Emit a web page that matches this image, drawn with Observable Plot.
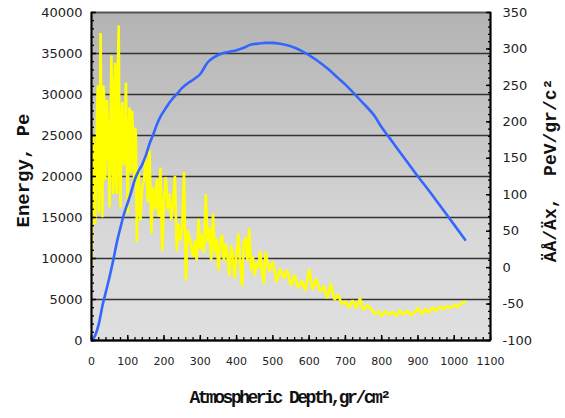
<!DOCTYPE html>
<html><head><meta charset="utf-8">
<script src="https://cdn.jsdelivr.net/npm/d3@7"></script>
<script src="https://cdn.jsdelivr.net/npm/@observablehq/plot@0.6"></script>
<style>body{margin:0;background:#fff;} svg{display:block}</style>
</head><body><div id="chart"></div>
<script>
// Energy (left axis, Pe) vs atmospheric depth
const energyDepth = [0,10,20,30,40,50,60,70,80,90,100,110,120,130,140,150,160,170,180,190,200,210,220,230,240,250,260,270,280,300,320,340,360,380,400,420,440,460,480,500,520,540,560,580,600,620,650,680,700,720,750,780,800,820,850,880,900,930,950,980,1000,1030];
const energyValues = [0,600,2000,4200,6000,7800,9800,12000,13800,15500,16800,18200,19700,20700,21500,22600,24000,25100,26300,27300,28000,28700,29300,29800,30300,30800,31200,31500,31800,32500,33900,34600,35000,35200,35400,35700,36100,36200,36300,36300,36200,36000,35700,35300,34800,34200,33200,32000,31200,30300,28900,27400,26000,24800,23000,21200,20000,18300,17100,15300,14100,12300];
// dE/dx (right axis, PeV/gr/cm2) vs atmospheric depth
const dedxDepth = [0,5,10,12.5,15,17.5,20,22.5,25,27.5,30,32.5,35,37.5,40,42.5,45,47.5,50,52.5,55,57.5,60,62.5,65,67.5,70,72.5,75,77.5,80,82.5,85,87.5,90,92.5,95,97.5,100,102.5,105,107.5,110,112.5,115,117.5,120,122.5,125,127.5,130,135,140,145,150,155,160,165,170,175,180,185,190,195,200,205,210,215,220,225,230,235,240,245,250,255,260,265,270,275,280,285,290,295,300,305,310,315,320,325,330,335,340,345,350,355,360,365,370,375,380,385,390,395,400,405,410,415,420,425,430,435,440,445,450,455,460,465,470,475,480,490,500,510,520,530,540,550,560,570,580,590,600,610,620,630,640,650,660,670,680,690,700,710,720,730,740,750,760,770,780,790,800,810,820,830,840,850,860,870,880,890,900,910,920,930,940,950,960,970,980,990,1000,1010,1020,1030];
const dedxValues = [5,180,60,140,211,250,75,120,322,190,69,250,233,120,160,230,198,140,83,200,291,160,101,240,281,120,101,270,332,130,83,200,227,160,140,200,254,150,74,190,220,130,190,215,160,120,192,180,35,100,137,65,110,120,157,90,161,47,110,80,122,70,137,23,95,124,80,101,65,90,126,23,60,37,55,131,-18,50,41,30,15,37,10,67,25,45,20,101,35,55,10,74,20,40,-4,35,45,10,33,15,-11,30,15,-15,20,47,5,-25,35,41,10,54,-4,15,-11,6,0,23,-5,-22,21,-5,8,-20,-1,-15,-3,-25,-10,-28,-18,-31,-2,-30,-15,-33,-25,-42,-22,-44,-38,-50,-47,-55,-45,-56,-42,-58,-52,-56,-63,-60,-66,-60,-64,-61,-66,-59,-64,-60,-65,-62,-56,-63,-57,-61,-55,-59,-54,-57,-53,-55,-51,-54,-49,-47];

const xTicks = [0,100,200,300,400,500,600,700,800,900,1000,1100];
const leftTicks = [0,5000,10000,15000,20000,25000,30000,35000,40000];
const rightTicks = [-100,-50,0,50,100,150,200,250,300,350];
const xTitle = "Atmospheric Depth,gr/cm\u00B2";
const leftTitle = "Energy, Pe";
const rightTitle = "\u00C4\u00C5/\u00C4x,  PeV/gr/c\u00B2";

const R0 = -100, R1 = 350, L1 = 40000;
const toLeft = v => (v - R0) * L1 / (R1 - R0);
const fromLeft = y => Math.round(y * (R1 - R0) / L1 + R0);

const energy = energyDepth.map((d, i) => ({d, e: energyValues[i]}));
const dedx = dedxDepth.map((d, i) => ({d, v: toLeft(dedxValues[i])}));

const xMinor = d3.range(0, 1101, 20);
const leftMinor = d3.range(0, 40001, 1000);
const rightMinor = d3.range(-100, 351, 10).map(toLeft);

const tickFont = "DejaVu Sans";
const titleFont = "Liberation Mono";

const chart = Plot.plot({
  width: 565, height: 418,
  marginTop: 12, marginBottom: 78, marginLeft: 91, marginRight: 75,
  x: {domain: [0, 1100]},
  y: {domain: [0, 40000]},
  style: {fontFamily: tickFont, fontSize: "13px", background: "white", color: "#222", overflow: "visible"},
  marks: [
    Plot.frame({fill: "url(#bgGrad)"}),
    Plot.gridY(leftTicks, {stroke: "#333", strokeOpacity: 1, strokeWidth: 1.6}),
    Plot.line(dedx, {x: "d", y: "v", stroke: "#ffff00", strokeWidth: 2.6, strokeLinejoin: "miter", strokeMiterlimit: 2}),
    Plot.line(energy, {x: "d", y: "e", stroke: "#3366ff", strokeWidth: 2.6, curve: "monotone-x"}),
    Plot.frame({stroke: "#555", strokeWidth: 1.5}),
    Plot.ruleX([0, 1100], {stroke: "#000", strokeWidth: 2}),
    Plot.ruleY([0], {stroke: "#000", strokeWidth: 2}),
    // ticks (inward)
    Plot.axisY(leftMinor, {anchor: "left", tickSize: -3, tickFormat: () => "", label: null, stroke: "#000", strokeWidth: 1.3}),
    Plot.axisY(leftTicks, {anchor: "left", tickSize: -5, tickFormat: () => "", label: null, stroke: "#000", strokeWidth: 1.5}),
    Plot.axisY(rightMinor, {anchor: "right", tickSize: -3, tickFormat: () => "", label: null, stroke: "#000", strokeWidth: 1.3}),
    Plot.axisY(rightTicks.map(toLeft), {anchor: "right", tickSize: -5, tickFormat: () => "", label: null, stroke: "#000", strokeWidth: 1.5}),
    Plot.axisX(xMinor, {anchor: "bottom", tickSize: -3, tickFormat: () => "", label: null, stroke: "#000", strokeWidth: 1.3}),
    Plot.axisX(xTicks, {anchor: "bottom", tickSize: -5, tickFormat: () => "", label: null, stroke: "#000", strokeWidth: 1.5}),
    // tick labels
    Plot.axisY(leftTicks, {anchor: "left", tickSize: 0, tickPadding: 9, tickFormat: d => String(d), label: null, fontSize: 13, fill: "#222"}),
    Plot.axisY(rightTicks.map(toLeft), {anchor: "right", tickSize: 0, tickPadding: 12, tickFormat: fromLeft, label: null, fontSize: 13, fill: "#222"}),
    Plot.axisX(xTicks, {anchor: "bottom", tickSize: 0, tickPadding: 17, tickFormat: d => String(d), label: null, fontSize: 11, fill: "#222"}),
    // titles
    Plot.text([leftTitle], {frameAnchor: "left", dx: -69, dy: -6, rotate: -90, textAnchor: "middle", fontFamily: titleFont, fontWeight: "bold", fontSize: 19, fill: "#111", text: d => d}),
    Plot.text([rightTitle], {frameAnchor: "right", dx: 60, dy: -6, rotate: -90, textAnchor: "middle", fontFamily: titleFont, fontWeight: "bold", fontSize: 18, fill: "#111", text: d => d}),
    Plot.text([xTitle], {frameAnchor: "bottom", dy: 62, dx: -2, textAnchor: "middle", fontFamily: titleFont, fontWeight: "bold", fontSize: 18, fill: "#111", text: d => d})
  ]
});

// squeeze the x-axis title like the original
chart.querySelectorAll("text").forEach(t => {
  if (t.textContent === xTitle) t.setAttribute("letter-spacing", "-2.5");
});

const ns = "http://www.w3.org/2000/svg";
const defs = document.createElementNS(ns, "defs");
const grad = document.createElementNS(ns, "linearGradient");
grad.setAttribute("id", "bgGrad");
grad.setAttribute("x1", "0"); grad.setAttribute("y1", "0");
grad.setAttribute("x2", "0"); grad.setAttribute("y2", "1");
[["0", "#b3b3b3"], ["0.7", "#d9d9d9"], ["1", "#dfdfdf"]].forEach(([o, c]) => {
  const s = document.createElementNS(ns, "stop");
  s.setAttribute("offset", o); s.setAttribute("stop-color", c);
  grad.appendChild(s);
});
defs.appendChild(grad);
chart.insertBefore(defs, chart.firstChild);
document.getElementById("chart").appendChild(chart);
</script>
</body></html>
